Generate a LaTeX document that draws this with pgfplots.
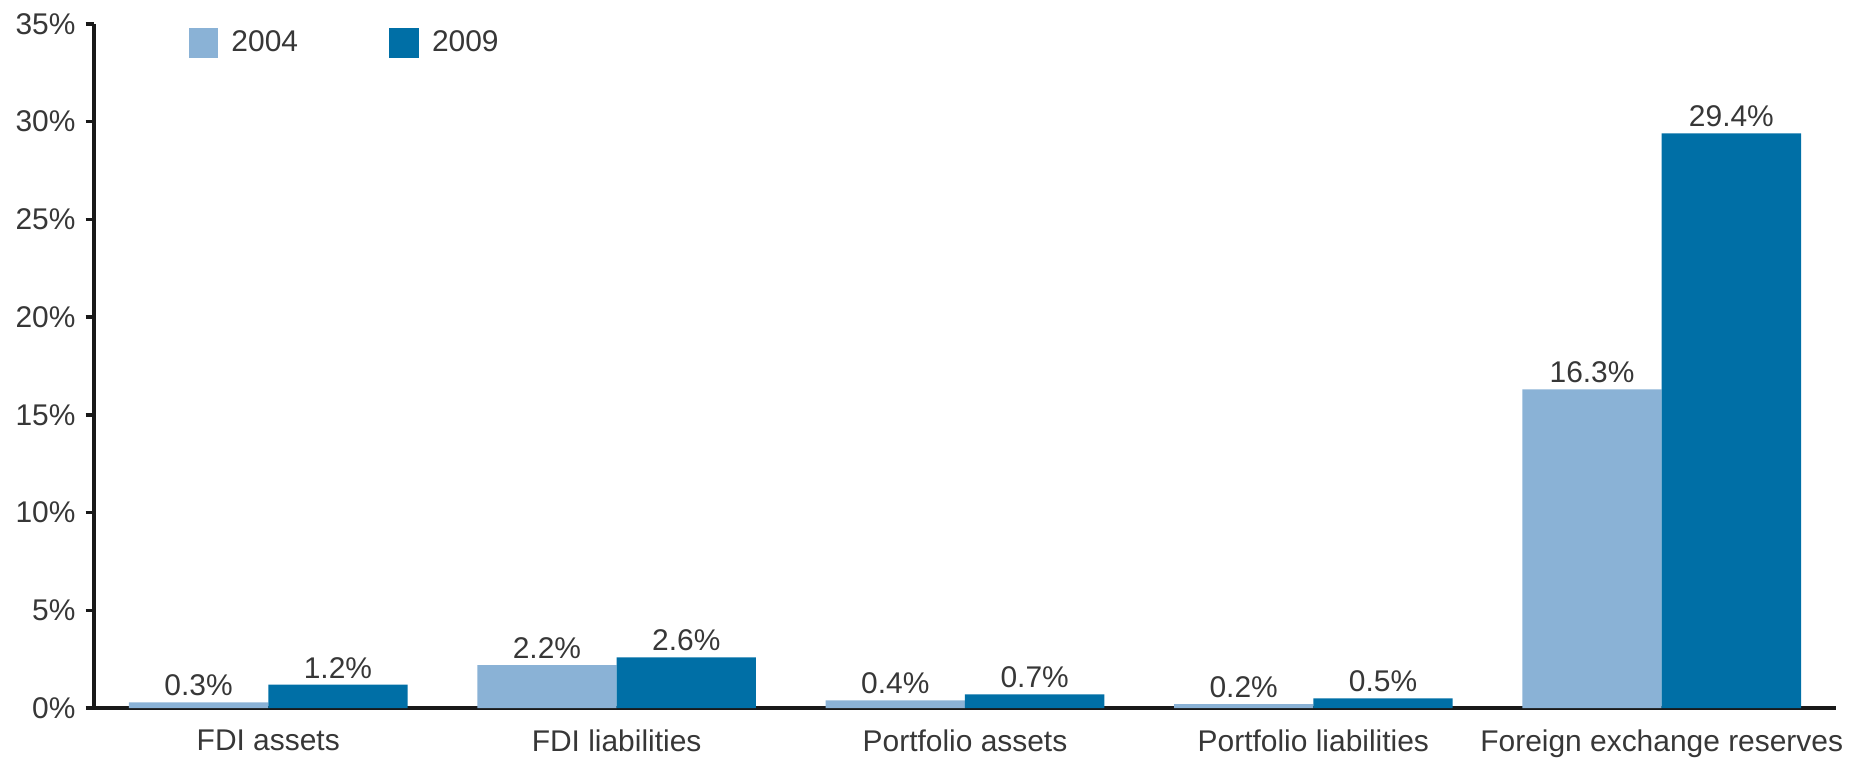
\documentclass[border=0pt]{standalone}
\usepackage{pgfplots}
\pgfplotsset{compat=1.18}
\usepackage{fontspec}
\setmainfont{Liberation Sans}
\definecolor{light}{RGB}{138,178,214}
\definecolor{dark}{RGB}{0,111,166}
\definecolor{txt}{RGB}{55,55,55}
\begin{document}
\begin{tikzpicture}
\begin{axis}[
  name=ax,
  ybar=0pt,
  scale only axis,
  width=611pt, height=240pt,
  xmin=-0.5, xmax=4.5,
  ymin=0, ymax=35,
  axis x line=bottom, axis y line=left,
  axis line style={-, line width=1.2pt, black!90},
  xtick={0,1,2,3,4},
  xticklabels={FDI assets, FDI liabilities, Portfolio assets, Portfolio liabilities, Foreign exchange reserves},
  major x tick style={draw=none},
  extra x ticks={-0.5,0.5,1.5,2.5,3.5,4.5},
  extra x tick labels={},
  extra x tick style={major tick length=4pt, tick align=outside, tick style={line width=1.2pt, black!90}},
  ytick={0,5,...,35},
  yticklabel={\pgfmathprintnumber{\tick}\%},
  y tick style={line width=1.2pt, black!90},
  major tick length=3pt,
  tick align=outside,
  /pgf/number format/assume math mode=true,
  ticklabel style={font=\fontsize{10.5}{12}\selectfont, text=txt},
  xticklabel style={yshift=-1pt},
  bar width=0.4,
  nodes near coords={\pgfmathprintnumber[fixed,precision=1,fixed zerofill]{\pgfplotspointmeta}\%},
  nodes near coords style={font=\fontsize{10.5}{12}\selectfont, text=txt, /pgf/number format/assume math mode=true, inner sep=2pt},
  legend style={at={(rel axis cs:0.054,1.0)}, anchor=north west, draw=none, fill=none, legend columns=2, font=\fontsize{10.5}{12}\selectfont, text=txt, /tikz/every even column/.append style={column sep=30pt}, inner sep=0pt},
  legend image code/.code={\fill[#1] (0pt,-5.2pt) rectangle (10.4pt,5.2pt); \path (13pt,0pt);},
  clip=false,
]
\addplot[bar shift=-0.2, fill=light, draw=none] coordinates {(0,0.3) (1,2.2) (2,0.4) (3,0.2) (4,16.3)};
\addplot[bar shift=0.2, fill=dark, draw=none] coordinates {(0,1.2) (1,2.6) (2,0.7) (3,0.5) (4,29.4)};
\legend{2004, 2009}
\end{axis}
\pgfresetboundingbox
\path ([shift={(-33pt,-17.9pt)}]ax.south west) rectangle ([shift={(5.3pt,8.4pt)}]ax.north east);
\end{tikzpicture}
\end{document}
